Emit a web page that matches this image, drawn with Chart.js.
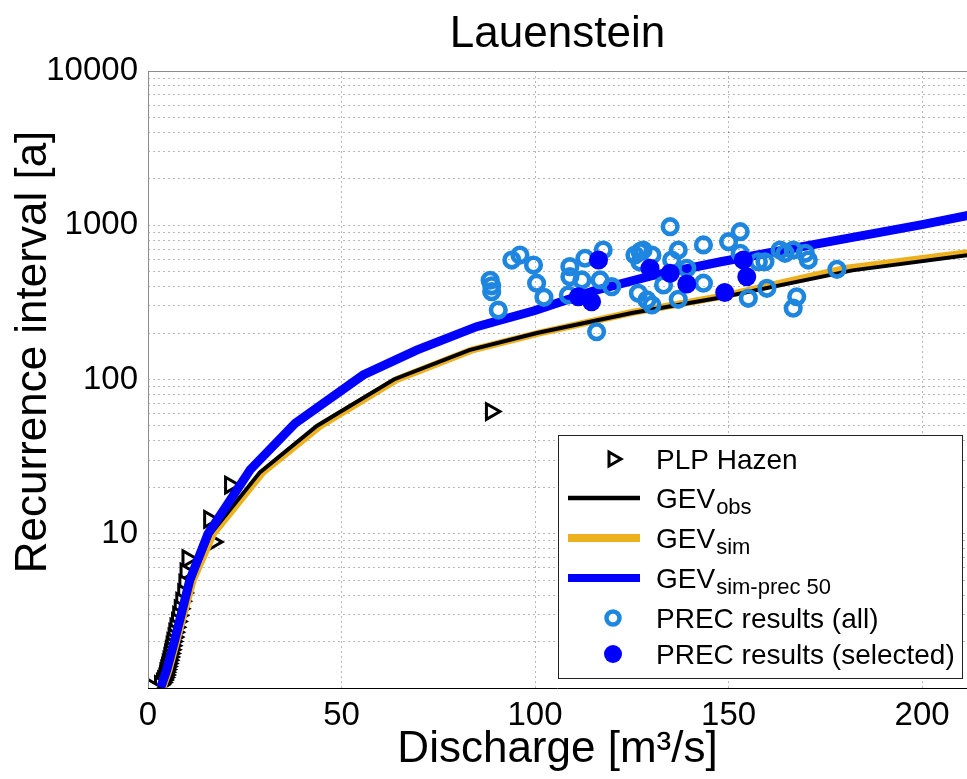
<!DOCTYPE html>
<html><head><meta charset="utf-8">
<script src="https://cdn.jsdelivr.net/npm/chart.js@4.4.0/dist/chart.umd.min.js"></script>
<style>html,body{margin:0;padding:0;background:#fff;overflow:hidden}#wrap{width:967px;height:779px}</style>
</head><body><div id="wrap"><canvas id="c" width="967" height="779"></canvas></div>
<script>
const chartTitle = 'Lauenstein';
const xAxisTitle = 'Discharge [m³/s]';
const yAxisTitle = 'Recurrence interval [a]';
const xTicks = [0, 50, 100, 150, 200];
const yTickLabels = [10, 100, 1000, 10000];
const xRange = [0, 211.6];
const yRange = [1, 10000];

// PLP Hazen (discharge, recurrence interval)
const plpQ = [88.6, 21.2, 15.8, 16.8, 10.2, 9.7, 9.4, 9.1, 8.6, 8.2, 7.8, 7.5, 7.1, 6.8, 6.6, 6.3, 6.1, 5.9, 5.7, 5.5, 5.3, 5.1, 4.9, 4.7, 4.5, 4.4, 4.2, 3.9, 3.6, 3.1, 1.0];
const plpT = [62, 20.67, 12.4, 8.857, 6.889, 5.636, 4.769, 4.133, 3.647, 3.263, 2.952, 2.696, 2.48, 2.296, 2.138, 2.0, 1.879, 1.771, 1.676, 1.59, 1.512, 1.442, 1.378, 1.319, 1.265, 1.216, 1.169, 1.127, 1.087, 1.05, 1.016];

// GEV obs
const gevObsQ = [3.6, 5.0, 7.0, 11.3, 16.2, 28.9, 43.6, 63.5, 83, 100.5, 125, 148, 182, 213];
const gevObsT = [1.01, 1.3, 2, 5, 10, 25, 50, 100, 155, 200, 270, 340, 510, 645];
// GEV sim
const gevSimQ = [3.9, 5.4, 7.4, 11.7, 16.9, 29.7, 44.5, 64.3, 83.6, 101, 125, 148, 180, 213];
const gevSimT = [1.01, 1.3, 2, 5, 10, 25, 50, 100, 155, 200, 272, 345, 525, 670];
// GEV sim-prec 50
const gevPrecQ = [3.3, 4.8, 6.8, 10.8, 15.5, 26.4, 38, 55.6, 69.4, 84.9, 100, 115, 130, 148, 175, 200, 215];
const gevPrecT = [1.01, 1.3, 2, 5, 10, 26, 52, 107, 155, 220, 280, 375, 470, 580, 775, 1010, 1200];

// PREC results (all)
const precAllQ = [88.4, 88.8, 88.8, 90.5, 94.0, 96.1, 99.6, 100.4, 102.3, 109.0, 109.0, 108.6, 112.1, 112.9, 115.9, 116.8, 117.6, 119.8, 125.8, 127.1, 127.9, 130.2, 127.1, 126.7, 128.9, 130.2, 134.9, 137.0, 135.3, 139.2, 133.2, 137.0, 143.5, 143.5, 150.0, 153.0, 153.0, 155.1, 159.9, 157.7, 159.4, 163.3, 164.6, 166.7, 169.8, 170.6, 178.0, 167.6, 166.7];
const precAllT = [440, 405, 371, 282, 595, 641, 552, 421, 341, 539, 464, 353, 442, 611, 204, 442, 691, 400, 641, 674, 691, 641, 578, 362, 328, 304, 979, 691, 595, 526, 410, 331, 745, 421, 782, 908, 658, 336, 390, 580, 580, 691, 658, 691, 658, 595, 518, 344, 290];
// PREC results (selected)
const precSelQ = [111.2, 114.6, 116.4, 129.7, 134.9, 139.2, 149.0, 153.8, 154.7];
const precSelT = [344, 319, 595, 526, 488, 416, 366, 595, 464];

const legendMain = ['PLP Hazen', 'GEV', 'GEV', 'GEV', 'PREC results (all)', 'PREC results (selected)'];
const legendSub = ['', 'obs', 'sim', 'sim-prec 50', '', ''];

const FONT = "'Liberation Sans', Arial, Helvetica, sans-serif";
const C_BLACK = '#000000', C_ORANGE = '#EDB120', C_BLUE = '#0000FF', C_RING = '#1F86E0';

const pts = (xs, ys) => xs.map((x, i) => ({x, y: ys[i]}));

function drawTri(ctx, cx, cy, r) {
  ctx.beginPath();
  ctx.moveTo(cx + r, cy);
  ctx.lineTo(cx - r / 2, cy - r * 0.866);
  ctx.lineTo(cx - r / 2, cy + r * 0.866);
  ctx.closePath();
  ctx.fillStyle = '#fff'; ctx.fill();
  ctx.lineWidth = 3; ctx.strokeStyle = '#000'; ctx.stroke();
}

const overlay = {
  id: 'overlay',
  afterDatasetsDraw(chart) {
    const {ctx, chartArea: a} = chart;
    ctx.save();
    // frame
    ctx.lineWidth = 1;
    ctx.strokeStyle = '#8c8c8c';
    ctx.beginPath();
    ctx.moveTo(a.left + 0.5, a.bottom); ctx.lineTo(a.left + 0.5, a.top + 0.5); ctx.lineTo(a.right, a.top + 0.5);
    ctx.stroke();
    ctx.strokeStyle = '#000';
    ctx.beginPath(); ctx.moveTo(a.left, a.bottom + 0.5); ctx.lineTo(a.right, a.bottom + 0.5); ctx.stroke();

    // legend
    const bx = a.right - 409, by = a.top + 364, bw = 404, bh = 243;
    ctx.fillStyle = '#fff';
    ctx.fillRect(bx, by, bw, bh);
    ctx.strokeStyle = '#222'; ctx.lineWidth = 1;
    ctx.strokeRect(bx + 0.5, by + 0.5, bw, bh);
    const baselines = [34, 73, 113, 153, 193, 229];
    const mx0 = bx + 10, mx1 = bx + 82, mcx = bx + 55, tx = bx + 98;
    for (let i = 0; i < legendMain.length; i++) {
      const bl = by + baselines[i];
      const cy = bl - 10;
      if (i === 0) drawTri(ctx, mcx, cy, 8);
      else if (i <= 3) {
        ctx.beginPath(); ctx.moveTo(mx0, cy); ctx.lineTo(mx1, cy);
        ctx.strokeStyle = [C_BLACK, C_ORANGE, C_BLUE][i - 1];
        ctx.lineWidth = [4.5, 8, 8][i - 1];
        ctx.lineCap = 'butt'; ctx.stroke();
      } else if (i === 4) {
        ctx.beginPath(); ctx.arc(mcx, cy, 6.5, 0, Math.PI * 2);
        ctx.fillStyle = '#fff'; ctx.fill();
        ctx.lineWidth = 4.5; ctx.strokeStyle = C_RING; ctx.stroke();
      } else {
        ctx.beginPath(); ctx.arc(mcx, cy, 9, 0, Math.PI * 2);
        ctx.fillStyle = C_BLUE; ctx.fill();
      }
      ctx.fillStyle = '#000';
      ctx.textAlign = 'left'; ctx.textBaseline = 'alphabetic';
      ctx.font = '28px ' + FONT;
      ctx.fillText(legendMain[i], tx, bl);
      if (legendSub[i]) {
        const w = ctx.measureText(legendMain[i]).width;
        ctx.font = '22px ' + FONT;
        ctx.fillText(legendSub[i], tx + w + 1, bl + 6);
      }
    }
    ctx.restore();
  },
  afterDraw(chart) {
    const {ctx, chartArea: a} = chart;
    ctx.save();
    ctx.fillStyle = '#000';
    ctx.textAlign = 'center'; ctx.textBaseline = 'alphabetic';
    ctx.font = '44px ' + FONT;
    ctx.fillText(chartTitle, (a.left + a.right) / 2, 47);
    ctx.fillText(xAxisTitle, (a.left + a.right) / 2, 762);
    ctx.translate(46, 352);
    ctx.rotate(-Math.PI / 2);
    ctx.fillText(yAxisTitle, 0, 0);
    ctx.restore();
  }
};

const gridCommon = {color: 'rgba(0,0,0,0.28)', lineWidth: 1, drawTicks: false};

new Chart(document.getElementById('c'), {
  type: 'scatter',
  data: {
    datasets: [
      {label: 'PREC results (selected)', data: pts(precSelQ, precSelT), order: 0,
        pointRadius: 9.5, pointBorderWidth: 0, pointBackgroundColor: C_BLUE, pointBorderColor: C_BLUE},
      {label: 'PREC results (all)', data: pts(precAllQ, precAllT), order: 1,
        pointRadius: 7.3, pointBorderWidth: 4.6, pointBackgroundColor: 'rgba(255,255,255,0)', pointBorderColor: C_RING},
      {label: 'GEV sim-prec 50', data: pts(gevPrecQ, gevPrecT), order: 2, showLine: true,
        borderColor: C_BLUE, borderWidth: 9, pointRadius: 0, tension: 0},
      {label: 'GEV obs', data: pts(gevObsQ, gevObsT), order: 3, showLine: true,
        borderColor: C_BLACK, borderWidth: 4, pointRadius: 0, tension: 0},
      {label: 'GEV sim', data: pts(gevSimQ, gevSimT), order: 4, showLine: true,
        borderColor: C_ORANGE, borderWidth: 7, pointRadius: 0, tension: 0},
      {label: 'PLP Hazen', data: pts(plpQ, plpT), order: 5,
        pointStyle: 'triangle', pointRotation: 90, pointRadius: 9, pointBorderWidth: 3,
        pointBorderColor: '#000', pointBackgroundColor: '#fff'}
    ]
  },
  options: {
    responsive: false, animation: false, devicePixelRatio: 1, events: [],
    layout: {autoPadding: false, padding: {top: 71, left: 0, right: 0, bottom: 0}},
    plugins: {legend: {display: false}, title: {display: false}, tooltip: {enabled: false}},
    scales: {
      x: {
        type: 'linear', min: xRange[0], max: xRange[1],
        afterBuildTicks: s => { s.ticks = xTicks.map(v => ({value: v})); },
        afterFit: s => { s.height = 91; s.paddingRight = 0; s.paddingLeft = 0; },
        grid: gridCommon,
        border: {display: false, dash: [2, 3]},
        ticks: {color: '#000', font: {size: 33, family: FONT}, padding: 8, maxRotation: 0, autoSkip: false,
          callback: v => String(v)}
      },
      y: {
        type: 'logarithmic', min: yRange[0], max: yRange[1],
        afterBuildTicks: s => {
          const t = [];
          for (const d of [1, 10, 100, 1000]) for (let m = 1; m < 10; m++) t.push({value: d * m});
          t.push({value: 10000});
          s.ticks = t;
        },
        afterFit: s => { s.width = 148; s.paddingTop = 0; s.paddingBottom = 0; },
        grid: gridCommon,
        border: {display: false, dash: [2, 3]},
        ticks: {color: '#000', font: {size: 33, family: FONT}, padding: 10, autoSkip: false,
          callback: v => yTickLabels.includes(v) ? String(v) : ''}
      }
    }
  },
  plugins: [overlay]
});
</script></body></html>
